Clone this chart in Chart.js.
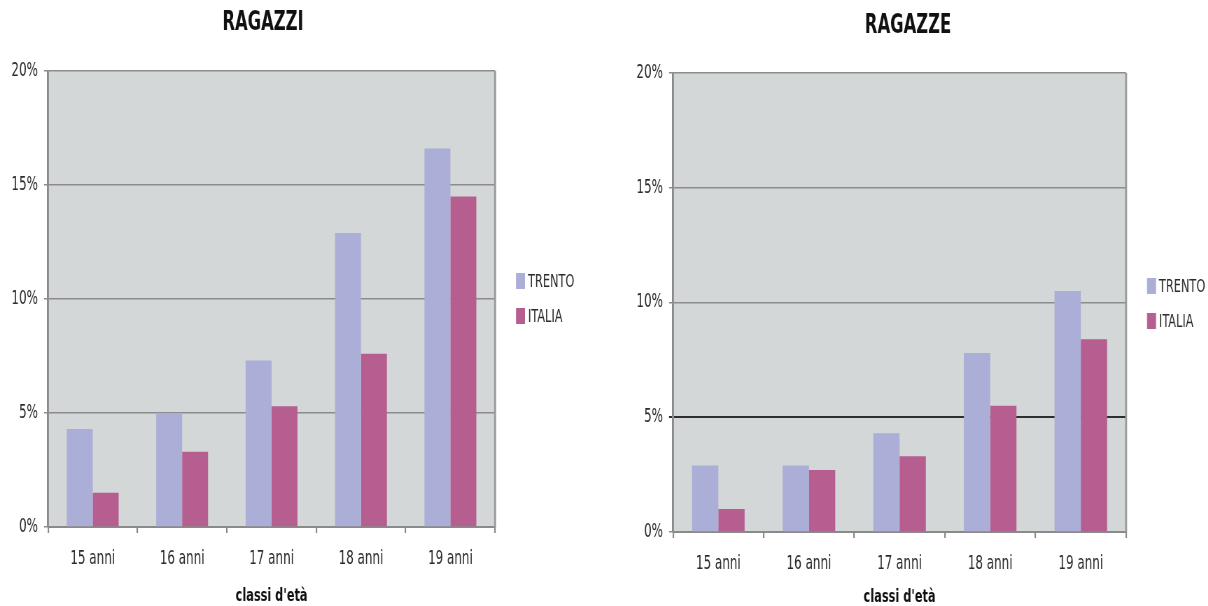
<!DOCTYPE html>
<html>
<head>
<meta charset="utf-8">
<script src="https://cdn.jsdelivr.net/npm/chart.js@4.4.1/dist/chart.umd.min.js"></script>
<style>
  html, body { margin: 0; padding: 0; background: #fff; }
  #wrap { position: relative; width: 1208px; height: 606px; overflow: hidden; }
  #wrap canvas { position: absolute; top: 0; transform-origin: 0 0; }
</style>
</head>
<body>
<div id="wrap">
  <canvas id="boys"></canvas>
  <canvas id="girls"></canvas>
</div>
<script>
// Age classes on the x axis
const ageClasses = ['15 anni', '16 anni', '17 anni', '18 anni', '19 anni'];
const seriesNames = ['TRENTO', 'ITALIA'];

// Percentages, boys
const boysTrento = [4.3, 5.0, 7.3, 12.9, 16.6];
const boysItalia = [1.5, 3.3, 5.3, 7.6, 14.5];

// Percentages, girls
const girlsTrento = [2.9, 2.9, 4.3, 7.8, 10.5];
const girlsItalia = [1.0, 2.7, 3.3, 5.5, 8.4];

// Y axis ticks (percent)
const yTicks = [0, 5, 10, 15, 20];

// The typeface is a tall, narrow one: each panel is drawn wider and
// squeezed horizontally, so x measures below are divided by SX.
const SX = 0.7;
const PANEL_W = 604, PANEL_H = 606;

const FONT = '"DejaVu Sans Condensed", "Liberation Sans Narrow", "Liberation Sans", sans-serif';
const COLORS = ['#abaed6', '#b55e8f'];
const TEXT = '#2b2b2b';

// Plot background, right frame line, panel title and legend
const panelDecor = {
  id: 'panelDecor',
  beforeDraw(chart) {
    const { ctx, chartArea: a } = chart;
    ctx.save();
    ctx.fillStyle = '#d4d7d8';
    ctx.fillRect(a.left, a.top, a.right - a.left, a.bottom - a.top);
    ctx.restore();
  },
  afterDraw(chart, args, opts) {
    const { ctx, chartArea: a } = chart;
    ctx.save();
    ctx.strokeStyle = '#9a9a9a';
    ctx.lineWidth = 2 / SX;
    ctx.beginPath();
    ctx.moveTo(a.right, a.top);
    ctx.lineTo(a.right, a.bottom);
    ctx.stroke();

    ctx.fillStyle = '#111';
    ctx.font = 'bold 26px ' + FONT;
    ctx.textAlign = 'center';
    ctx.textBaseline = 'middle';
    ctx.fillText(opts.title, opts.titleX / SX, opts.titleY);

    ctx.font = '18px ' + FONT;
    ctx.textAlign = 'left';
    chart.data.datasets.forEach((ds, i) => {
      const y = opts.legendY[i];
      ctx.fillStyle = ds.backgroundColor;
      ctx.fillRect(opts.legendX / SX, y - 8, 9 / SX, 16);
      ctx.fillStyle = TEXT;
      ctx.fillText(ds.label, (opts.legendX + 12) / SX, y + 1);
    });
    ctx.restore();
  }
};

function makePanel(id, left, title, trento, italia, geo) {
  const canvas = document.getElementById(id);
  const w = Math.round(PANEL_W / SX);
  canvas.width = w;
  canvas.height = PANEL_H;
  canvas.style.width = w + 'px';
  canvas.style.height = PANEL_H + 'px';
  canvas.style.left = left + 'px';
  canvas.style.transform = 'scaleX(' + SX + ')';

  return new Chart(canvas, {
    type: 'bar',
    data: {
      labels: ageClasses,
      datasets: [
        { label: seriesNames[0], data: trento, backgroundColor: COLORS[0] },
        { label: seriesNames[1], data: italia, backgroundColor: COLORS[1] }
      ]
    },
    plugins: [panelDecor],
    options: {
      responsive: false,
      animation: false,
      devicePixelRatio: 1,
      layout: { padding: { top: geo.top, right: geo.right / SX, bottom: 0, left: 0 } },
      datasets: { bar: { categoryPercentage: 0.58, barPercentage: 1.0 } },
      plugins: {
        legend: { display: false },
        tooltip: { enabled: false },
        panelDecor: {
          title: title, titleX: geo.titleX, titleY: geo.titleY,
          legendX: geo.legendX, legendY: geo.legendY
        }
      },
      scales: {
        x: {
          afterFit: s => { s.height = geo.xHeight; },
          grid: {
            drawOnChartArea: false, drawTicks: true, tickLength: 6,
            color: '#8a8a8a', lineWidth: 1.5 / SX, offset: true
          },
          border: { color: '#8a8a8a', width: 2 },
          ticks: { color: TEXT, font: { family: FONT, size: 19 }, padding: 15 },
          title: {
            display: true, text: "classi d'età", color: '#111',
            font: { family: FONT, size: 18, weight: 'bold', lineHeight: 1 },
            padding: { top: 0, bottom: geo.titlePad }
          }
        },
        y: {
          min: 0, max: 20,
          afterFit: s => { s.width = geo.yWidth / SX; },
          afterBuildTicks: s => { s.ticks = yTicks.map(v => ({ value: v })); },
          grid: {
            drawTicks: true, tickLength: 4 / SX,
            color: ctx => (geo.darkFive && ctx.tick && ctx.tick.value === 5) ? '#2e2e2e' : '#8c8c8c',
            lineWidth: ctx => (geo.darkFive && ctx.tick && ctx.tick.value === 5) ? 2 : 1.5
          },
          border: { color: '#8a8a8a', width: 2 / SX },
          ticks: {
            color: TEXT, font: { family: FONT, size: 19 }, padding: 6 / SX,
            callback: v => v + '%'
          }
        }
      }
    }
  });
}

makePanel('boys', 0, 'RAGAZZI', boysTrento, boysItalia, {
  top: 71, right: 109, xHeight: 79, yWidth: 48, titlePad: 1,
  titleX: 263, titleY: 23, legendX: 516, legendY: [281, 316], darkFive: false
});

makePanel('girls', 604, 'RAGAZZE', girlsTrento, girlsItalia, {
  top: 73, right: 82, xHeight: 74, yWidth: 69, titlePad: 0,
  titleX: 304, titleY: 26, legendX: 543, legendY: [286, 321], darkFive: true
});
</script>
</body>
</html>
